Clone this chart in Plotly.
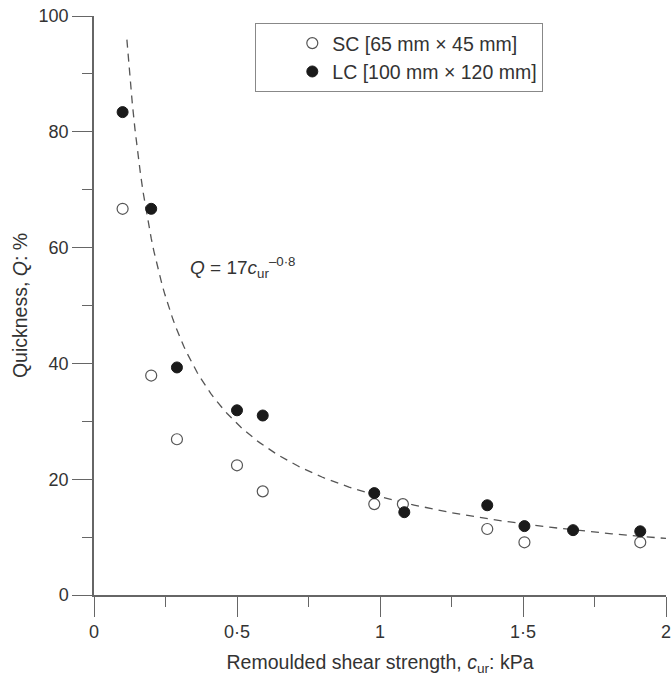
import numpy as np
import plotly.graph_objects as go

# Data
sc_x = [0.10, 0.20, 0.29, 0.50, 0.59, 0.98, 1.08, 1.375, 1.505, 1.91]
sc_q = [66.7, 37.9, 26.9, 22.4, 17.9, 15.7, 15.7, 11.4, 9.1, 9.1]

lc_x = [0.10, 0.20, 0.29, 0.50, 0.59, 0.98, 1.085, 1.375, 1.505, 1.675, 1.91]
lc_q = [83.4, 66.7, 39.3, 31.9, 31.0, 17.6, 14.3, 15.5, 11.9, 11.2, 11.0]

# Fitted curve Q = 17 c^-0.8 (as stated on the chart)
fit_a = 17.0
fit_b = -0.8
fit_c = np.linspace(0.115, 2.0, 200)
fit_q = fit_a * fit_c ** fit_b

x_tickvals = [0, 0.5, 1, 1.5, 2]
x_ticktext = ["0", "0·5", "1", "1·5", "2"]
y_tickvals = [0, 20, 40, 60, 80, 100]

FONT = "Liberation Sans, Arial, sans-serif"
TXT = "#333333"
AX = "#666666"
TICK_FS = 18
LAB_FS = 19.5

fig = go.Figure()
fig.add_trace(go.Scatter(
    x=fit_c, y=fit_q, mode="lines", showlegend=False,
    line=dict(color="#555555", width=1.3, dash="8px,6px"), hoverinfo="skip"))
fig.add_trace(go.Scatter(
    x=sc_x, y=sc_q, mode="markers", name="SC [65 mm × 45 mm]",
    marker=dict(symbol="circle", size=11, color="white",
                line=dict(color="#555555", width=1.2))))
fig.add_trace(go.Scatter(
    x=lc_x, y=lc_q, mode="markers", name="LC [100 mm × 120 mm]",
    marker=dict(symbol="circle", size=11, color="#1a1a1a",
                line=dict(color="#1a1a1a", width=1))))

fig.add_annotation(
    x=0.33, y=56.5, xref="x", yref="y", xanchor="left", yanchor="middle",
    text="<i>Q</i> = 17<i>c</i><sub>ur</sub><sup>–0·8</sup>",
    showarrow=False, font=dict(family=FONT, size=19, color=TXT))

fig.update_layout(
    width=672, height=677,
    margin=dict(l=94, r=1, t=16, b=82),
    paper_bgcolor="white", plot_bgcolor="white",
    font=dict(family=FONT, size=LAB_FS, color=TXT),
    legend=dict(
        x=0.282, y=0.988, xanchor="left", yanchor="top",
        bordercolor="#888888", borderwidth=1, bgcolor="white",
        font=dict(family=FONT, size=LAB_FS, color=TXT),
        indentation=36, itemwidth=30, tracegroupgap=0,
        entrywidth=284, entrywidthmode="pixels",
    ),
    xaxis=dict(
        range=[0, 2.0], tickvals=x_tickvals, ticktext=x_ticktext,
        showgrid=False, zeroline=False, showline=True, linecolor=AX, linewidth=1.5,
        ticks="outside", ticklen=20, tickcolor=AX, tickwidth=1.3,
        ticklabeloverflow="allow",
        minor=dict(ticks="outside", dtick=0.25, tick0=0, ticklen=10, tickcolor=AX, tickwidth=1.3),
        tickfont=dict(family=FONT, size=TICK_FS, color=TXT),
        title=dict(text="Remoulded shear strength, <i>c</i><sub>ur</sub>: kPa",
                   font=dict(family=FONT, size=LAB_FS, color=TXT), standoff=14),
    ),
    yaxis=dict(
        range=[0, 100], tickvals=y_tickvals,
        showgrid=False, zeroline=False, showline=True, linecolor=AX, linewidth=1.5,
        ticks="outside", ticklen=20, tickcolor=AX, tickwidth=1.3,
        ticklabeloverflow="allow",
        minor=dict(ticks="outside", dtick=10, tick0=0, ticklen=10, tickcolor=AX, tickwidth=1.3),
        tickfont=dict(family=FONT, size=TICK_FS, color=TXT),
        title=dict(text="Quickness, <i>Q</i>: %",
                   font=dict(family=FONT, size=LAB_FS, color=TXT), standoff=6),
    ),
)

fig.write_html("out.html")
